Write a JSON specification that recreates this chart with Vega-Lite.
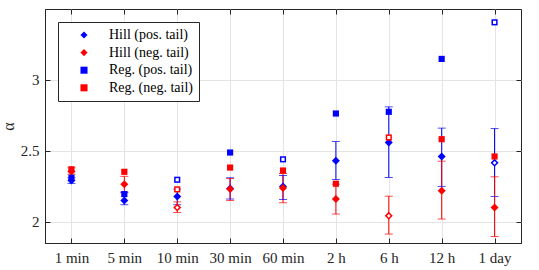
{
  "$schema": "https://vega.github.io/schema/vega-lite/v6.json",
  "width": 476,
  "height": 234,
  "autosize": {"type": "none"},
  "padding": {"left": 45, "top": 9, "right": 18, "bottom": 27},
  "background": "white",
  "config": {
    "font": "Liberation Serif",
    "view": {"stroke": "#262626", "strokeWidth": 1},
    "axis": {
      "labelFont": "Liberation Serif",
      "labelFontSize": 15,
      "labelColor": "#262626",
      "titleFont": "Liberation Serif",
      "titleFontSize": 16,
      "titleFontWeight": "normal",
      "titleColor": "#262626",
      "gridColor": "#e4e4e4",
      "gridWidth": 1,
      "domainColor": "#262626",
      "tickColor": "#262626",
      "tickSize": -5
    },
    "legend": {
      "labelFont": "Liberation Serif",
      "labelFontSize": 14,
      "labelColor": "#000000",
      "fillColor": "white",
      "strokeColor": "#262626",
      "padding": 6,
      "rowPadding": 3.6,
      "symbolSize": 50,
      "symbolStrokeWidth": 0
    }
  },
  "data": {
    "values": [
      {"t": "1 min", "series": "Hill (pos. tail)", "alpha": 2.29, "lo": 2.27, "hi": 2.31, "open": false},
      {"t": "5 min", "series": "Hill (pos. tail)", "alpha": 2.15, "lo": 2.12, "hi": 2.205, "open": false},
      {"t": "10 min", "series": "Hill (pos. tail)", "alpha": 2.178, "lo": 2.12, "hi": 2.23, "open": false},
      {"t": "30 min", "series": "Hill (pos. tail)", "alpha": 2.235, "lo": 2.16, "hi": 2.31, "open": false},
      {"t": "60 min", "series": "Hill (pos. tail)", "alpha": 2.249, "lo": 2.157, "hi": 2.326, "open": false},
      {"t": "2 h", "series": "Hill (pos. tail)", "alpha": 2.43, "lo": 2.298, "hi": 2.566, "open": false},
      {"t": "6 h", "series": "Hill (pos. tail)", "alpha": 2.558, "lo": 2.312, "hi": 2.81, "open": false},
      {"t": "12 h", "series": "Hill (pos. tail)", "alpha": 2.46, "lo": 2.249, "hi": 2.66, "open": false},
      {"t": "1 day", "series": "Hill (pos. tail)", "alpha": 2.415, "lo": 2.178, "hi": 2.657, "open": true},
      {"t": "1 min", "series": "Hill (neg. tail)", "alpha": 2.355, "lo": 2.335, "hi": 2.38, "open": false},
      {"t": "5 min", "series": "Hill (neg. tail)", "alpha": 2.265, "lo": 2.21, "hi": 2.32, "open": false},
      {"t": "10 min", "series": "Hill (neg. tail)", "alpha": 2.1, "lo": 2.065, "hi": 2.14, "open": true},
      {"t": "30 min", "series": "Hill (neg. tail)", "alpha": 2.23, "lo": 2.15, "hi": 2.305, "open": false},
      {"t": "60 min", "series": "Hill (neg. tail)", "alpha": 2.237, "lo": 2.134, "hi": 2.34, "open": false},
      {"t": "2 h", "series": "Hill (neg. tail)", "alpha": 2.16, "lo": 2.054, "hi": 2.265, "open": false},
      {"t": "6 h", "series": "Hill (neg. tail)", "alpha": 2.042, "lo": 1.913, "hi": 2.18, "open": true},
      {"t": "12 h", "series": "Hill (neg. tail)", "alpha": 2.218, "lo": 2.019, "hi": 2.427, "open": false},
      {"t": "1 day", "series": "Hill (neg. tail)", "alpha": 2.101, "lo": 1.896, "hi": 2.317, "open": false},
      {"t": "1 min", "series": "Reg. (pos. tail)", "alpha": 2.31, "open": false},
      {"t": "5 min", "series": "Reg. (pos. tail)", "alpha": 2.195, "open": false},
      {"t": "10 min", "series": "Reg. (pos. tail)", "alpha": 2.296, "open": true},
      {"t": "30 min", "series": "Reg. (pos. tail)", "alpha": 2.488, "open": false},
      {"t": "60 min", "series": "Reg. (pos. tail)", "alpha": 2.44, "open": true},
      {"t": "2 h", "series": "Reg. (pos. tail)", "alpha": 2.763, "open": false},
      {"t": "6 h", "series": "Reg. (pos. tail)", "alpha": 2.775, "open": false},
      {"t": "12 h", "series": "Reg. (pos. tail)", "alpha": 3.148, "open": false},
      {"t": "1 day", "series": "Reg. (pos. tail)", "alpha": 3.406, "open": true},
      {"t": "1 min", "series": "Reg. (neg. tail)", "alpha": 2.37, "open": false},
      {"t": "5 min", "series": "Reg. (neg. tail)", "alpha": 2.352, "open": false},
      {"t": "10 min", "series": "Reg. (neg. tail)", "alpha": 2.228, "open": true},
      {"t": "30 min", "series": "Reg. (neg. tail)", "alpha": 2.382, "open": false},
      {"t": "60 min", "series": "Reg. (neg. tail)", "alpha": 2.361, "open": false},
      {"t": "2 h", "series": "Reg. (neg. tail)", "alpha": 2.268, "open": false},
      {"t": "6 h", "series": "Reg. (neg. tail)", "alpha": 2.594, "open": true},
      {"t": "12 h", "series": "Reg. (neg. tail)", "alpha": 2.582, "open": false},
      {"t": "1 day", "series": "Reg. (neg. tail)", "alpha": 2.46, "open": false}
    ]
  },
  "layer": [
    {
      "transform": [{"filter": "isValid(datum.lo)"}],
      "mark": {"type": "rule", "strokeWidth": 1},
      "encoding": {
        "x": {"field": "t", "type": "nominal", "sort": null,
              "scale": {"type": "point", "padding": 0.5, "domain": ["1 min", "5 min", "10 min", "30 min", "60 min", "2 h", "6 h", "12 h", "1 day"]},
              "axis": {"orient": "bottom", "title": null, "grid": true, "labelAngle": 0, "labelPadding": 12}},
        "y": {"field": "lo", "type": "quantitative",
              "scale": {"domain": [1.85, 3.5], "nice": false, "zero": false},
              "axis": {"orient": "left", "title": "α", "values": [2, 2.5, 3], "format": "~g", "grid": true, "labelPadding": 11, "titleX": -29, "titleY": 117, "titleAngle": -90, "titleBaseline": "bottom"}},
        "y2": {"field": "hi"},
        "stroke": {"field": "series", "type": "nominal", "scale": {"domain": ["Hill (pos. tail)", "Hill (neg. tail)"], "range": ["#0000ff", "#ff0000"]}, "legend": null}
      }
    },
    {
      "transform": [{"filter": "isValid(datum.lo)"}],
      "mark": {"type": "tick", "thickness": 1, "size": 8},
      "encoding": {
        "x": {"field": "t", "type": "nominal", "sort": null,
              "axis": {"orient": "top", "title": null, "labels": false, "grid": false, "domain": false}},
        "y": {"field": "lo", "type": "quantitative",
              "axis": {"orient": "right", "title": null, "labels": false, "grid": false, "domain": false, "values": [2, 2.5, 3]}},
        "fill": {"field": "series", "type": "nominal", "scale": {"domain": ["Hill (pos. tail)", "Hill (neg. tail)"], "range": ["#0000ff", "#ff0000"]}, "legend": null}
      }
    },
    {
      "transform": [{"filter": "isValid(datum.hi)"}],
      "mark": {"type": "tick", "thickness": 1, "size": 8},
      "encoding": {
        "x": {"field": "t", "type": "nominal", "sort": null, "axis": null},
        "y": {"field": "hi", "type": "quantitative", "axis": null},
        "fill": {"field": "series", "type": "nominal", "legend": null}
      }
    },
    {
      "transform": [{"filter": "indexof(datum.series, 'Hill') == 0"}],
      "mark": {"type": "point", "filled": true, "size": 64, "opacity": 1},
      "encoding": {
        "x": {"field": "t", "type": "nominal", "sort": null, "axis": null},
        "y": {"field": "alpha", "type": "quantitative", "axis": null},
        "color": {"field": "series", "type": "nominal",
                  "scale": {"domain": ["Hill (pos. tail)", "Hill (neg. tail)", "Reg. (pos. tail)", "Reg. (neg. tail)"], "range": ["#0000ff", "#ff0000", "#0000ff", "#ff0000"]},
                  "legend": {"title": null, "orient": "none", "legendX": 13, "legendY": 13, "symbolOffset": 13, "labelOffset": 18, "padding": 6}},
        "shape": {"field": "series", "type": "nominal",
                  "scale": {"domain": ["Hill (pos. tail)", "Hill (neg. tail)", "Reg. (pos. tail)", "Reg. (neg. tail)"], "range": ["diamond", "diamond", "square", "square"]},
                  "legend": {"title": null, "orient": "none", "legendX": 13, "legendY": 13, "symbolOffset": 13, "labelOffset": 18, "padding": 6}}
      }
    },
    {
      "transform": [{"filter": "indexof(datum.series, 'Reg') == 0"}],
      "mark": {"type": "point", "filled": true, "size": 38, "opacity": 1},
      "encoding": {
        "x": {"field": "t", "type": "nominal", "sort": null, "axis": null},
        "y": {"field": "alpha", "type": "quantitative", "axis": null},
        "color": {"field": "series", "type": "nominal", "legend": {"title": null, "orient": "none", "legendX": 13, "legendY": 13, "symbolOffset": 13, "labelOffset": 18, "padding": 6}},
        "shape": {"field": "series", "type": "nominal", "legend": {"title": null, "orient": "none", "legendX": 13, "legendY": 13, "symbolOffset": 13, "labelOffset": 18, "padding": 6}}
      }
    },
    {
      "transform": [{"filter": "datum.open && indexof(datum.series, 'Hill') == 0"}],
      "mark": {"type": "point", "filled": true, "size": 14, "shape": "diamond", "color": "white", "opacity": 1},
      "encoding": {
        "x": {"field": "t", "type": "nominal", "sort": null, "axis": null},
        "y": {"field": "alpha", "type": "quantitative", "axis": null}
      }
    },
    {
      "transform": [{"filter": "datum.open && indexof(datum.series, 'Reg') == 0"}],
      "mark": {"type": "point", "filled": true, "size": 10, "shape": "square", "color": "white", "opacity": 1},
      "encoding": {
        "x": {"field": "t", "type": "nominal", "sort": null, "axis": null},
        "y": {"field": "alpha", "type": "quantitative", "axis": null}
      }
    }
  ],
  "resolve": {"axis": {"x": "independent", "y": "independent"}}
}
